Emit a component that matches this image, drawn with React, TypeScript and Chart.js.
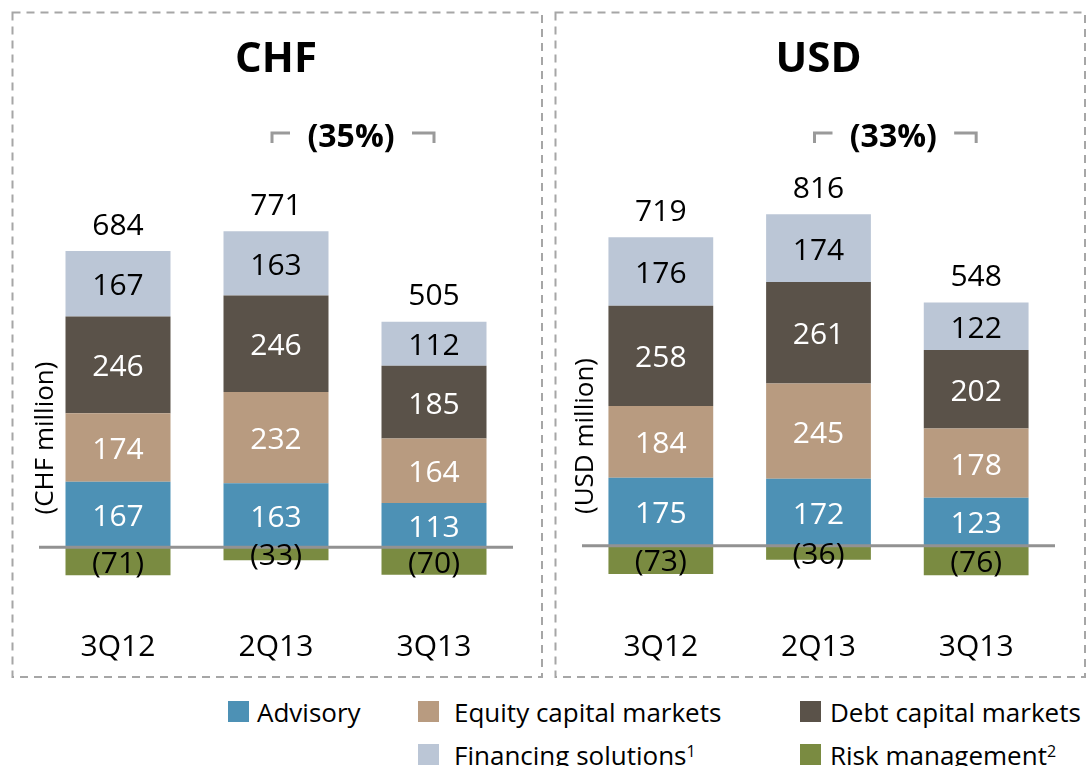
import React, { useEffect, useRef } from "react";
import { Chart, registerables } from "chart.js";

Chart.register(...registerables);

const FONT = "'Open Sans', sans-serif";

// ---- data ----
const categories = ["3Q12", "2Q13", "3Q13"];
const seriesNames = [
  "Advisory",
  "Equity capital markets",
  "Debt capital markets",
  "Financing solutions",
  "Risk management",
];
const seriesSup = ["", "", "", "1", "2"];
const seriesColors = ["#4D91B5", "#B89B80", "#5A5249", "#BBC6D6", "#7A8B41"];
const labelColors = ["#ffffff", "#ffffff", "#ffffff", "#000000", "#000000"];

const chfAdvisory = [167, 163, 113];
const chfEquity = [174, 232, 164];
const chfDebt = [246, 246, 185];
const chfFinancing = [167, 163, 112];
const chfRisk = [-71, -33, -70];
const chfTotals = [684, 771, 505];
const chfChange = "(35%)";

const usdAdvisory = [175, 172, 123];
const usdEquity = [184, 245, 178];
const usdDebt = [258, 261, 202];
const usdFinancing = [176, 174, 122];
const usdRisk = [-73, -36, -76];
const usdTotals = [719, 816, 548];
const usdChange = "(33%)";

const fmt = (v: number) => (v < 0 ? `(${-v})` : String(v));

const panelPlugin = {
  id: "panel",
  beforeDraw(chart: any, _args: any, opts: any) {
    const ctx = chart.ctx;
    ctx.save();
    ctx.strokeStyle = "#a6a6a6";
    ctx.lineWidth = 2;
    ctx.setLineDash([8, 6]);
    const [bx, by, bw, bh] = opts.box;
    ctx.strokeRect(bx, by, bw, bh);
    ctx.restore();
  },
  afterDatasetsDraw(chart: any, _args: any, opts: any) {
    const { ctx, chartArea } = chart;
    const xs = chart.scales.x;
    const ys = chart.scales.y;
    ctx.save();
    // zero line
    const y0 = ys.getPixelForValue(0);
    ctx.strokeStyle = "#929292";
    ctx.lineWidth = 3;
    ctx.beginPath();
    ctx.moveTo(chartArea.left, y0);
    ctx.lineTo(chartArea.right, y0);
    ctx.stroke();

    // segment labels
    ctx.textAlign = "center";
    ctx.textBaseline = "middle";
    ctx.font = `30px ${FONT}`;
    chart.data.datasets.forEach((ds: any, i: number) => {
      const meta = chart.getDatasetMeta(i);
      meta.data.forEach((el: any, j: number) => {
        const v = ds.data[j];
        ctx.fillStyle = labelColors[i];
        ctx.fillText(fmt(v), el.x, (el.y + el.base) / 2 + 3);
      });
    });

    // totals
    const topMeta = chart.getDatasetMeta(3);
    ctx.fillStyle = "#000";
    opts.totals.forEach((t: number, j: number) => {
      const el = topMeta.data[j];
      ctx.fillText(String(t), el.x, el.y - 25);
    });

    // title
    ctx.font = `bold 42px ${FONT}`;
    ctx.fillText(opts.title, xs.getPixelForValue(1), 60);

    // bracket + change
    const xl = xs.getPixelForValue(1) - 4;
    const xr = xs.getPixelForValue(2);
    ctx.strokeStyle = "#9a9a9a";
    ctx.lineWidth = 3;
    ctx.beginPath();
    ctx.moveTo(xl, 143);
    ctx.lineTo(xl, 133);
    ctx.lineTo(xl + 18, 133);
    ctx.stroke();
    ctx.beginPath();
    ctx.moveTo(xr - 22, 133);
    ctx.lineTo(xr, 133);
    ctx.lineTo(xr, 143);
    ctx.stroke();
    ctx.font = `bold 32px ${FONT}`;
    ctx.fillText(opts.change, (xl + xr) / 2 - 2, 138);

    // y title
    ctx.translate(opts.yTitlePos[0], opts.yTitlePos[1]);
    ctx.rotate(-Math.PI / 2);
    ctx.font = `26px ${FONT}`;
    ctx.fillText(opts.yTitle, 0, 0);
    ctx.restore();
  },
};

type PanelProps = {
  left: number;
  title: string;
  yTitle: string;
  series: number[][];
  totals: number[];
  change: string;
  padding: { left: number; right: number; top: number; bottom: number };
  tickPad: number;
  box: number[];
  yTitlePos: number[];
};

function Panel(p: PanelProps) {
  const ref = useRef<HTMLCanvasElement | null>(null);
  useEffect(() => {
    if (!ref.current) return;
    const chart = new Chart(ref.current, {
      type: "bar",
      data: {
        labels: categories,
        datasets: p.series.map((d, i) => ({
          label: seriesNames[i],
          data: d,
          backgroundColor: seriesColors[i],
          borderWidth: 0,
          barPercentage: 105 / 158,
          categoryPercentage: 1,
        })),
      },
      options: {
        animation: false,
        responsive: false,
        maintainAspectRatio: false,
        layout: { padding: p.padding },
        plugins: {
          legend: { display: false },
          tooltip: { enabled: false },
          // @ts-ignore
          panel: {
            box: p.box,
            title: p.title,
            yTitle: p.yTitle,
            totals: p.totals,
            change: p.change,
            yTitlePos: p.yTitlePos,
          },
        },
        scales: {
          x: {
            stacked: true,
            grid: { display: false, drawTicks: false },
            border: { display: false },
            ticks: { color: "#000", font: { size: 30, family: FONT }, padding: p.tickPad },
            afterFit: (s: any) => {
              s.height = 60;
            },
          },
          y: { stacked: true, display: false, min: -150, max: 1000 },
        },
      },
      plugins: [panelPlugin as any],
    });
    return () => chart.destroy();
  }, []);
  return (
    <canvas
      ref={ref}
      width={544}
      height={680}
      style={{ position: "absolute", left: p.left, top: 0, width: 544, height: 680 }}
    />
  );
}

function LegendItem({ i, x, y, tx }: { i: number; x: number; y: number; tx: number }) {
  return (
    <>
      <div
        style={{
          position: "absolute",
          left: x,
          top: y,
          width: 21,
          height: 21,
          background: seriesColors[i],
        }}
      />
      <div
        style={{
          position: "absolute",
          left: tx,
          top: y - 2,
          fontFamily: FONT,
          fontSize: 26,
          lineHeight: "26px",
          whiteSpace: "nowrap",
          color: "#000",
        }}
      >
        {seriesNames[i]}
        {seriesSup[i] ? (
          <span style={{ fontSize: 16, position: "relative", top: -8 }}>{seriesSup[i]}</span>
        ) : null}
      </div>
    </>
  );
}

export default function App() {
  Chart.defaults.font.family = FONT;
  return (
    <div
      style={{
        position: "absolute",
        left: 0,
        top: 0,
        width: 1088,
        height: 766,
        overflow: "hidden",
        background: "#fff",
      }}
    >
      <Panel
        left={0}
        title="CHF"
        yTitle="(CHF million)"
        series={[chfAdvisory, chfEquity, chfDebt, chfFinancing, chfRisk]}
        totals={chfTotals}
        change={chfChange}
        padding={{ left: 39, right: 31, top: 154.3, bottom: 13.75 }}
        tickPad={22.75}
        box={[12.5, 12.5, 529.5, 664.5]}
        yTitlePos={[46, 438]}
      />
      <Panel
        left={544}
        title="USD"
        yTitle="(USD million)"
        series={[usdAdvisory, usdEquity, usdDebt, usdFinancing, usdRisk]}
        totals={usdTotals}
        change={usdChange}
        padding={{ left: 38, right: 33, top: 156.7, bottom: 15.95 }}
        tickPad={24.95}
        box={[11.5, 12.5, 529.5, 664.5]}
        yTitlePos={[42, 436]}
      />
      <LegendItem i={0} x={228} y={701} tx={257} />
      <LegendItem i={1} x={418} y={701} tx={454} />
      <LegendItem i={2} x={800} y={701} tx={830} />
      <LegendItem i={3} x={418} y={744} tx={454} />
      <LegendItem i={4} x={800} y={744} tx={830} />
    </div>
  );
}
